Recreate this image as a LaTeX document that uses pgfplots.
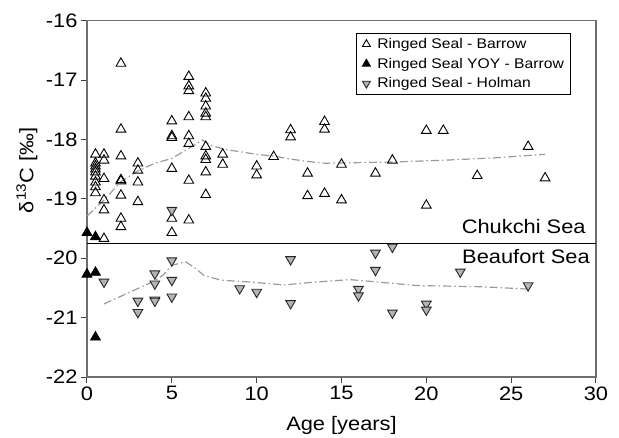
\documentclass[border=0pt]{standalone}
\usepackage{fontspec}
\setmainfont{Liberation Sans}[FakeStretch=1.12]
\usepackage{pgfplots}
\pgfplotsset{compat=1.18}
\definecolor{holgray}{HTML}{B4B4B4}
\definecolor{fitgray}{HTML}{9A9A9A}
\definecolor{spine}{HTML}{6E6E6E}
\begin{document}
\begin{tikzpicture}
\begin{axis}[
  scale only axis,
  width=509pt, height=356.3pt,
  xmin=0, xmax=30, ymin=-22, ymax=-16,
  xtick={0,5,10,15,20,25,30},
  xticklabels={0,5,10,15,20,25,30},
  ytick={-22,-21,-20,-19,-18,-17,-16},
  yticklabels={-22,-21,-20,-19,-18,-17,-16},
  tick align=outside, xtick pos=left, ytick pos=left,
  major tick length=6pt,
  tick style={color=black!75, line width=1pt},
  axis line style={color=spine, line width=1.3pt},
  ticklabel style={font=\fontsize{19.5}{22}\selectfont},
  clip=false,
  legend cell align=left,
  legend image code/.code={\path[draw=none,fill=none] (0pt,-3pt) rectangle (15pt,3pt); \draw[#1] plot coordinates {(6pt,0pt)};},
  legend style={at={(axis description cs:0.5285,0.9655)}, anchor=north west,
    font=\fontsize{14}{16}\selectfont, draw=black, line width=0.8pt,
    inner xsep=4pt, inner ysep=3pt, row sep=4pt},
]
% fitted curves
\addplot[forget plot, color=fitgray, line width=1.2pt, dash pattern=on 8pt off 3pt on 1.5pt off 3pt] coordinates {
(0,-19.29) (1,-19.02) (2,-18.71) (3,-18.53) (4,-18.40) (5,-18.32) (6,-18.15) (6.8,-18.01) (7.3,-18.10) (8.2,-18.17) (10,-18.25) (11,-18.28) (12,-18.33) (13,-18.37) (14,-18.40) (16,-18.39) (18,-18.38) (21,-18.35) (24,-18.31) (27,-18.25)};
\addplot[forget plot, color=fitgray, line width=1.2pt, dash pattern=on 8pt off 3pt on 1.5pt off 3pt] coordinates {
(1,-20.77) (2,-20.64) (3,-20.51) (4,-20.38) (4.5,-20.28) (5,-20.12) (5.8,-20.06) (6.3,-20.15) (6.9,-20.29) (7.9,-20.37) (9.6,-20.40) (11.6,-20.45) (13.5,-20.40) (15.5,-20.36) (17.9,-20.42) (19.4,-20.46) (23.3,-20.48) (26,-20.52)};
% boundary
\addplot[forget plot, black, line width=1.2pt] coordinates {(0,-19.75) (30,-19.75)};
% Barrow
\addplot[only marks, mark=triangle, mark size=5.6pt, mark options={draw=black, line width=0.9pt}, legend image post style={mark size=4.6pt}] coordinates {
(0.5,-18.25) (0.5,-18.40) (0.5,-18.45) (0.5,-18.50) (0.5,-18.55) (0.5,-18.62) (0.5,-18.72) (0.5,-18.80) (0.5,-18.90)
(1,-18.25) (1,-18.35) (1,-18.66) (1,-19.02) (1,-19.19) (1,-19.67)
(2,-16.72) (2,-17.83) (2,-18.28) (2,-18.68) (2,-18.70) (2,-18.94) (2,-19.33) (2,-19.47)
(3,-18.40) (3,-18.52) (3,-18.72) (3,-19.05)
(5,-17.69) (5,-17.94) (5,-17.97) (5,-18.49) (5,-19.33) (5,-19.57)
(6,-16.94) (6,-17.10) (6,-17.18) (6,-17.62) (6,-17.94) (6,-18.07) (6,-18.69) (6,-19.36)
(7,-17.22) (7,-17.31) (7,-17.44) (7,-17.56) (7,-17.62) (7,-18.12) (7,-18.28) (7,-18.34) (7,-18.55) (7,-18.93)
(8,-18.25) (8,-18.42)
(10,-18.45) (10,-18.60)
(11,-18.29)
(12,-17.84) (12,-17.96)
(13,-18.57) (13,-18.95)
(14,-17.70) (14,-17.83) (14,-18.91)
(15,-18.42) (15,-19.02)
(17,-18.57) (18,-18.35)
(20,-17.85) (20,-19.11) (21,-17.85)
(23,-18.61) (26,-18.12) (27,-18.65)};
\addlegendentry{Ringed Seal - Barrow}
% YOY
\addplot[only marks, mark=triangle*, mark size=5.6pt, mark options={draw=black, fill=black, line width=0.9pt}, legend image post style={mark size=4.6pt}] coordinates {
(0,-19.57) (0.5,-19.64) (0,-20.27) (0.5,-20.24) (0.5,-21.33)};
\addlegendentry{Ringed Seal YOY - Barrow}
% Holman
\addplot[only marks, mark=triangle*, mark size=5.6pt, mark options={draw=black!85, fill=holgray, line width=0.9pt, rotate=180}, legend image post style={mark size=4.6pt}] coordinates {
(1,-20.40) (3,-20.72) (3,-20.91) (4,-20.26) (4,-20.43) (4,-20.70) (4,-20.72)
(5,-19.19) (5,-20.04) (5,-20.37) (5,-20.65)
(9,-20.51) (10,-20.57) (12,-20.02) (12,-20.76)
(16,-20.52) (16,-20.63) (17,-19.91) (17,-20.20)
(18,-19.81) (18,-20.92) (20,-20.77) (20,-20.87)
(22,-20.23) (26,-20.46)};
\addlegendentry{Ringed Seal - Holman}
\node[anchor=east, font=\fontsize{19.5}{22}\selectfont, inner sep=0pt] at (axis cs:29.4,-19.47) {Chukchi Sea};
\node[anchor=east, font=\fontsize{19.5}{22}\selectfont, inner sep=0pt] at (axis cs:29.64,-19.97) {Beaufort Sea};
\node[rotate=90, anchor=center, font=\fontsize{19.5}{22}\selectfont] at (axis description cs:-0.118,0.58) {δ\textsuperscript{13}C [‰]};
\node[anchor=center, font=\fontsize{19.5}{22}\selectfont] at (axis description cs:0.5,-0.137) {Age [years]};
\end{axis}
\pgfresetboundingbox
\path[use as bounding box] (-87pt,-60pt) rectangle (532pt,377pt);
\end{tikzpicture}
\end{document}
